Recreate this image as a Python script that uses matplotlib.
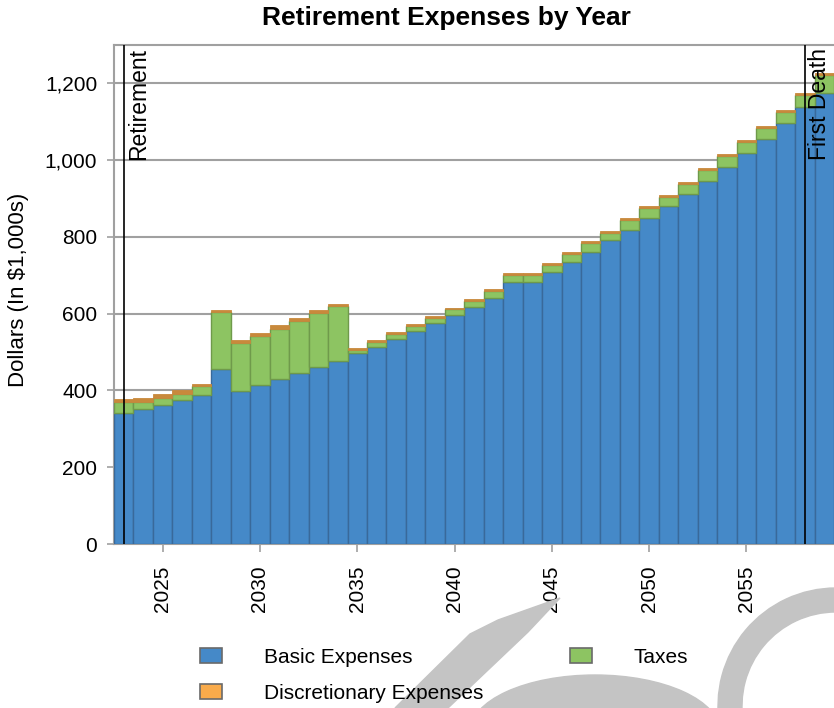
import matplotlib
matplotlib.use("Agg")
import matplotlib.pyplot as plt
from matplotlib.patches import Patch, Polygon, Ellipse, Wedge
import numpy as np

plt.rcParams['font.family'] = ['Liberation Sans', 'DejaVu Sans']

years = list(range(2023, 2060))
basic = [340, 352, 361, 376, 388, 455, 398, 413, 430, 446,
         461, 477, 498, 514, 535, 556, 576, 597, 618, 640,
         682, 682, 708, 734, 760, 791, 819, 850, 880, 912,
         945, 981, 1018, 1054, 1096, 1138, 1175]
taxes = [30, 19, 20, 16, 23, 150, 125, 130, 130, 134,
         140, 144, 8, 12, 13, 13, 14, 14, 14, 20,
         19, 19, 19, 21, 25, 20, 24, 25, 24, 25,
         29, 30, 30, 30, 30, 31, 46]
discretionary = [9, 9, 9, 9, 5, 5, 9, 6, 10, 10,
                 9, 5, 5, 5, 5, 5, 5, 5, 5, 5,
                 5, 5, 5, 5, 5, 5, 5, 5, 5, 5,
                 5, 5, 5, 5, 5, 5, 5]
series_names = ["Basic Expenses", "Discretionary Expenses", "Taxes"]
events = [(2023, "Retirement"), (2058, "First Death")]
yticks = [0, 200, 400, 600, 800, 1000, 1200]
xticks = [2025, 2030, 2035, 2040, 2045, 2050, 2055]

fill = {"Basic Expenses": "#4589c8", "Taxes": "#8dc462", "Discretionary Expenses": "#f9ab4b"}
edge = {"Basic Expenses": "#39699a", "Taxes": "#6f9a4b", "Discretionary Expenses": "#c8893c"}

W, H = 834, 708
fig = plt.figure(figsize=(W / 100, H / 100), dpi=100)
ax = fig.add_axes([114 / W, 1 - 544 / H, 720 / W, (544 - 45) / H])

x = np.array(years)
b = np.array(basic)
t = np.array(taxes)
d = np.array(discretionary)
ax.bar(x, b, width=1.0, color=fill["Basic Expenses"], edgecolor=edge["Basic Expenses"], linewidth=1.0, zorder=3)
ax.bar(x, t, width=1.0, bottom=b, color=fill["Taxes"], edgecolor=edge["Taxes"], linewidth=1.0, zorder=3)
ax.bar(x, d, width=1.0, bottom=b + t, color=edge["Discretionary Expenses"], edgecolor=edge["Discretionary Expenses"], linewidth=0.6, zorder=3)

ax.set_xlim(2022.5, 2059.5)
ax.set_ylim(0, 1300)
ax.set_yticks(yticks)
ax.set_yticklabels([f"{v:,}" for v in yticks])
ax.set_xticks(xticks)
ax.set_xticklabels([str(v) for v in xticks], rotation=90)
ax.yaxis.grid(True, color="#a0a0a0", linewidth=1.5, zorder=0)
ax.set_axisbelow(True)
ax.tick_params(axis="y", length=5, width=1.2, color="#a0a0a0", pad=7, labelsize=15)
ax.tick_params(axis="x", length=6, width=1.2, color="#a0a0a0", pad=9.5, labelsize=15)
for s in ["left", "top", "bottom"]:
    ax.spines[s].set_color("#a0a0a0")
    ax.spines[s].set_linewidth(1.5)
ax.spines["right"].set_visible(False)

for yr, label in events:
    ax.axvline(yr, color="black", linewidth=1.2, zorder=5)
    ax.text(yr + 0.15, 1292, label, rotation=90, ha="left", va="top", fontsize=16.5, zorder=6)

fig.text(446 / W, 1 - 18 / H, "Retirement Expenses by Year", ha="center", va="center",
         fontsize=19, fontweight="bold")
fig.text(19 / W, 1 - 290 / H, "Dollars (In $1,000s)", rotation=90, ha="center", va="center", fontsize=16)

# watermark shapes (figure pixel coords, y from top)
wm = "#c4c4c4"
def px(pts):
    return [(xx / W, 1 - yy / H) for xx, yy in pts]
fig.patches.append(Polygon(px([(395, 708), (448, 708), (528, 632), (560, 598), (498, 620), (470, 634)]),
                           closed=True, transform=fig.transFigure, color=wm, zorder=0))
fig.patches.append(Ellipse((595 / W, 1 - 732 / H), 250 / W, 114 / H, transform=fig.transFigure, color=wm, zorder=0))
fig.patches.append(Wedge((836, 2), 118, 90, 190, width=24, transform=None, color=wm, zorder=0))

handles = [Patch(facecolor=fill[n], edgecolor="#6a6a6a", linewidth=1.2) for n in series_names]
fig.legend(handles, series_names, ncol=2, frameon=False, fontsize=15,
           loc="upper left", bbox_to_anchor=(200 / W, 1 - 648 / H),
           handlelength=1.05, handleheight=0.7, handletextpad=2.0,
           columnspacing=4.2, labelspacing=0.8, borderpad=0, borderaxespad=0)

fig.savefig("out.png", dpi=100)
